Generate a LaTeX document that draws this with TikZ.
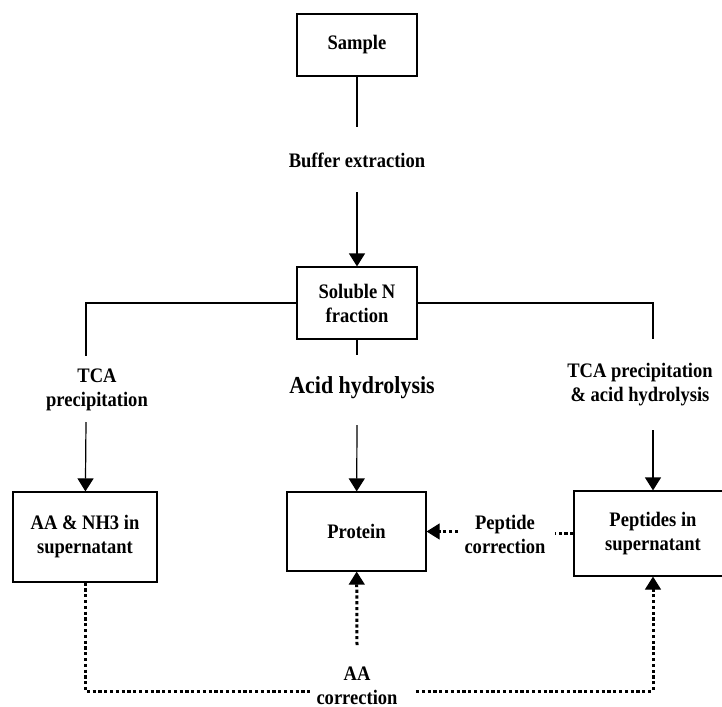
\documentclass[tikz,border=0pt]{standalone}
\usepackage{fontspec}
\setmainfont{Liberation Serif}[FakeStretch=0.9]
\usetikzlibrary{arrows.meta}

\begin{document}
\begin{tikzpicture}[x=0.5pt, y=-0.5pt,
  every node/.style={font=\fontsize{10.3}{12}\selectfont\bfseries, align=center, inner sep=0pt},
  stage/.style={draw, line width=0.6pt},
  flow/.style={line width=0.6pt},
  tip/.style={-{Triangle[length=6.5pt, width=8pt, line width=0.6pt]}},
  corrline/.style={line width=1.5pt, dash pattern=on 1.6pt off 1.3pt}]
  \useasboundingbox (0,0) rectangle (722,706);
  % boxes
  \node[stage, minimum width=60pt, minimum height=31pt] (sample) at (357,45) {Sample};
  \node[stage, minimum width=60pt, minimum height=36pt] (soluble) at (357,303) {Soluble N\\fraction};
  \node[stage, minimum width=72pt, minimum height=45pt] (aanh) at (85,537) {AA \& NH3 in\\supernatant};
  \node[stage, minimum width=69.5pt, minimum height=39.5pt] (protein) at (356.5,531.5) {Protein};
  \node[stage, minimum width=79pt, minimum height=42.5pt] (peptides) at (653,533.5) {Peptides in\\supernatant};
  % step labels
  \node (buffer) at (357,160) {Buffer extraction};
  \node (tcaleft) at (97,389.5) {TCA\\precipitation};
  \node[font=\fontsize{12.2}{13}\selectfont\bfseries] (acid) at (362,388) {Acid hydrolysis};
  \node (tcaright) at (640,385) {TCA precipitation\\\& acid hydrolysis};
  \node (pepcorr) at (505,534.5) {Peptide\\correction};
  \node (aacorr) at (357,685.5) {AA\\correction};
  % free ends of the connectors
  \coordinate (s1) at (357,127);
  \coordinate (s2) at (357,192);
  \coordinate (l1) at (86,356);
  \coordinate (l2) at (86,422);
  \coordinate (m1) at (357,355);
  \coordinate (m2) at (357,425);
  \coordinate (r1) at (653,339);
  \coordinate (r2) at (653,430);
  \coordinate (pc) at (458,531.5);
  \coordinate (pw) at (555,533.5);
  \coordinate (am) at (357,645);
  \coordinate (bl) at (311,691);
  \coordinate (br) at (416,691);
  % solid flow
  \draw[flow] (sample) -- (s1);
  \draw[flow, tip] (s2) -- (soluble);
  \draw[flow] (soluble.west) -| (l1);
  \draw[flow] (soluble.east) -| (r1);
  \draw[flow] (soluble) -- (m1);
  \draw[flow, tip] (l2) -- (aanh);
  \draw[flow, tip] (m2) -- (protein);
  \draw[flow, tip] (r2) -- (peptides);
  % dotted corrections
  \draw[corrline, tip] (pc) -- (protein.east);
  \draw[corrline] (peptides.west) -- (pw);
  \draw[corrline, tip] (am) -- (protein);
  \draw[corrline] (aanh) |- (bl);
  \draw[corrline, tip] (br) -| (peptides);
\end{tikzpicture}
\end{document}
